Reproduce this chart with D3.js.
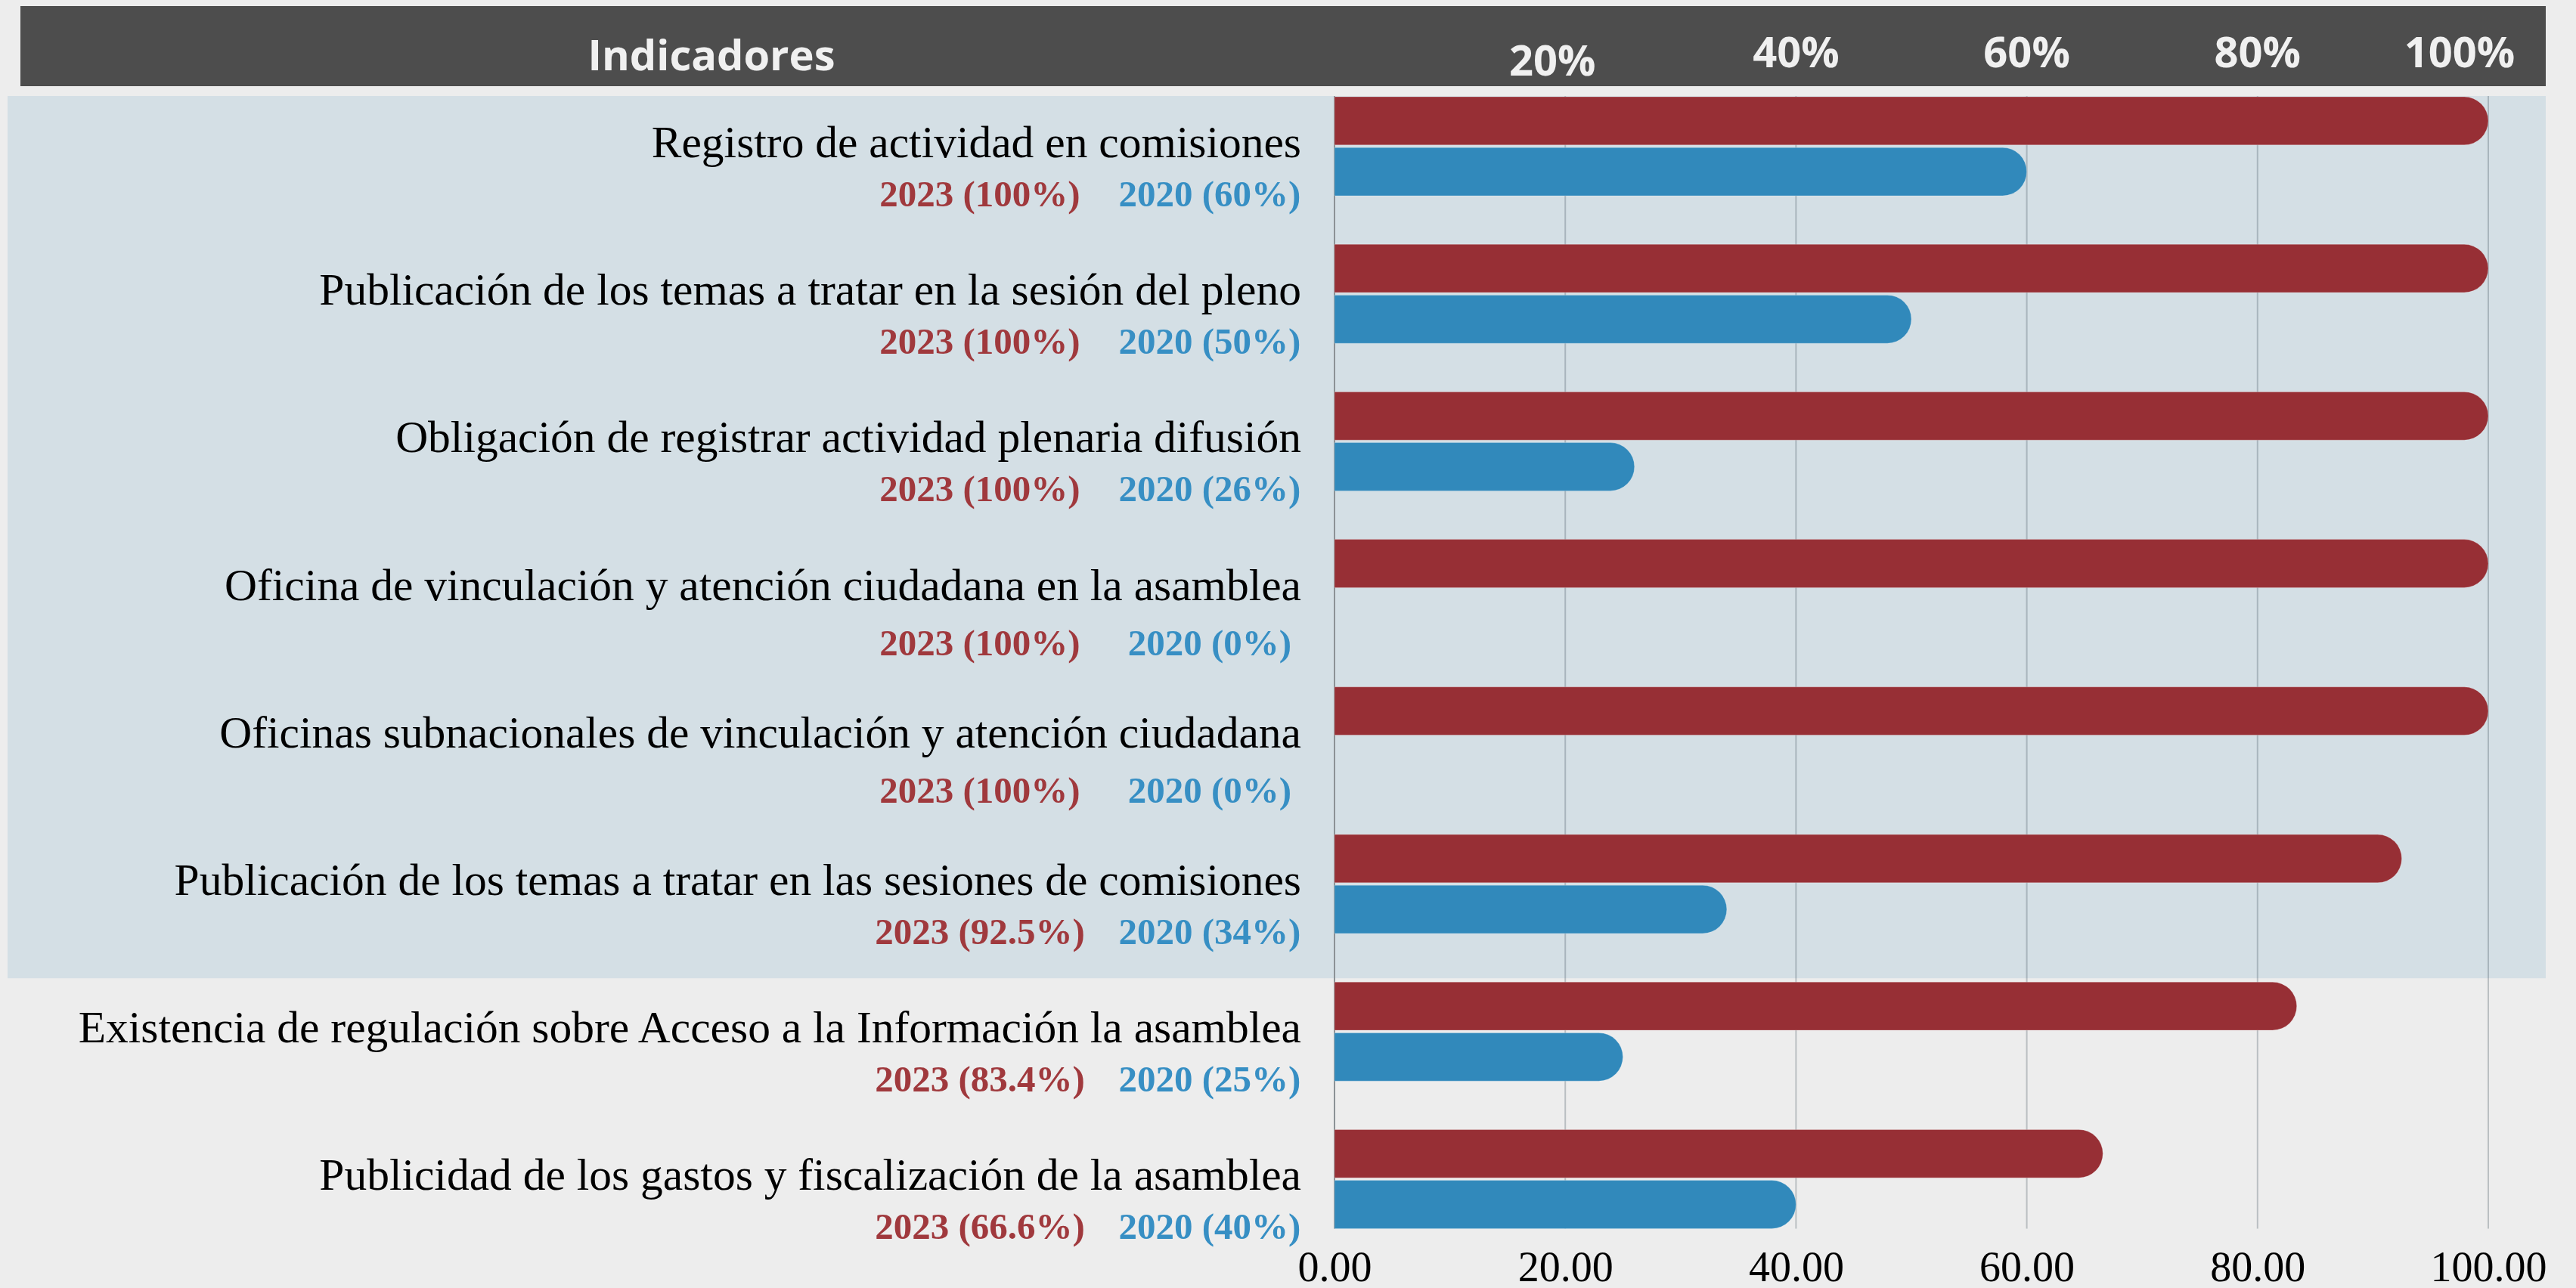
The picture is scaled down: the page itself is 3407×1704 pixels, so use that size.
<!DOCTYPE html>
<html>
<head>
<meta charset="utf-8">
<script src="https://cdn.jsdelivr.net/npm/d3@7"></script>
<style>
  html, body { margin: 0; padding: 0; background: #ededed; }
  svg { display: block; }
</style>
</head>
<body>
<svg id="chart" width="3407" height="1704"></svg>
<script>
// ---- data ----
const categories = [
  "Registro de actividad en comisiones",
  "Publicación de los temas a tratar en la sesión del pleno",
  "Obligación de registrar actividad plenaria difusión",
  "Oficina de vinculación y atención ciudadana en la asamblea",
  "Oficinas subnacionales de vinculación y atención ciudadana",
  "Publicación de los temas a tratar en las sesiones de comisiones",
  "Existencia de regulación sobre Acceso a la Información la asamblea",
  "Publicidad de los gastos y fiscalización de la asamblea"
];
const values2023 = [100, 100, 100, 100, 100, 92.5, 83.4, 66.6];
const values2020 = [60, 50, 26, 0, 0, 34, 25, 40];
const labels2023 = ["2023 (100%)", "2023 (100%)", "2023 (100%)", "2023 (100%)", "2023 (100%)", "2023 (92.5%)", "2023 (83.4%)", "2023 (66.6%)"];
const labels2020 = ["2020 (60%)", "2020 (50%)", "2020 (26%)", "2020 (0%)", "2020 (0%)", "2020 (34%)", "2020 (25%)", "2020 (40%)"];
const series = ["2023", "2020"];
const axisTicks = [0, 20, 40, 60, 80, 100];
const headerTicks = [20, 40, 60, 80, 100];
const headerTickLabels = ["20%", "40%", "60%", "80%", "100%"];
const headerTitle = "Indicadores";
const highlightedRows = 6;

// ---- layout ----
const svg = d3.select("#chart");
const W = 3407, H = 1704;
const COLORS = { "2023": "#972f35", "2020": "#3189bb" };
const TEXTCOL = { "2023": "#a0393d", "2020": "#378fc4" };

const x = d3.scaleLinear().domain([0, 100]).range([1765, 3291]);
const y = d3.scaleBand().domain(categories).range([128, 128 + 8 * 195.2]).paddingInner(0).paddingOuter(0);
const ySub = d3.scaleBand().domain(series).range([0, 131]).paddingInner(0.05);

const rows = categories.map((c, i) => ({
  cat: c, v2023: values2023[i], v2020: values2020[i], l2023: labels2023[i], l2020: labels2020[i], i
}));

// background
svg.append("rect").attr("width", W).attr("height", H).attr("fill", "#ededed");

// header
svg.append("rect").attr("x", 27).attr("y", 8).attr("width", 3367 - 27).attr("height", 106).attr("fill", "#4d4d4d");
svg.append("text").attr("x", 941).attr("y", 93).attr("text-anchor", "middle")
  .attr("font-family", "'Open Sans', 'Liberation Sans', sans-serif").attr("font-weight", 700)
  .attr("font-size", 56).attr("fill", "#f0f0f0").text(headerTitle);
svg.append("g").selectAll("text").data(headerTicks).join("text")
  .attr("x", (d, i) => x(d) + (i === 0 ? -17 : (i === headerTicks.length - 1 ? -38 : 0)))
  .attr("y", (d, i) => i === 0 ? 100 : 89)
  .attr("text-anchor", "middle")
  .attr("font-family", "'Open Sans', 'Liberation Sans', sans-serif").attr("font-weight", 700)
  .attr("font-size", 56).attr("fill", "#f0f0f0")
  .text((d, i) => headerTickLabels[i]);

// highlighted band
const bandTop = y(categories[0]) - 1;
const bandBottom = y(categories[highlightedRows]) - 5;
svg.append("rect").attr("x", 10).attr("y", bandTop).attr("width", 3367 - 10)
  .attr("height", bandBottom - bandTop).attr("fill", "#d4dfe5");

// gridlines
const gridBottom = y(categories[categories.length - 1]) + 131;
svg.append("g").selectAll("line").data(axisTicks.slice(1)).join("line")
  .attr("x1", d => x(d)).attr("x2", d => x(d))
  .attr("y1", bandTop).attr("y2", gridBottom)
  .attr("stroke", "rgba(70,85,95,0.3)").attr("stroke-width", 2);
svg.append("line").attr("x1", x(0)).attr("x2", x(0)).attr("y1", bandTop).attr("y2", gridBottom)
  .attr("stroke", "#8c9296").attr("stroke-width", 2);

// bars
function pill(x0, x1, yy, h) {
  const w = x1 - x0;
  if (w <= 0) return "";
  const r = Math.min(h / 2, w);
  return `M${x0},${yy}H${x1 - r}A${r},${h / 2} 0 0 1 ${x1 - r},${yy + h}H${x0}Z`;
}
const gBars = svg.append("g");
rows.forEach(r => {
  series.forEach(s => {
    const v = s === "2023" ? r.v2023 : r.v2020;
    if (v <= 0) return;
    gBars.append("path")
      .attr("d", pill(x(0), x(v), y(r.cat) + ySub(s), ySub.bandwidth()))
      .attr("fill", COLORS[s])
      .attr("stroke", "rgba(255,255,255,0.25)").attr("stroke-width", 1);
  });
});

// labels
const gLab = svg.append("g");
gLab.selectAll("text.cat").data(rows).join("text").attr("class", "cat")
  .attr("x", 1721).attr("y", d => y(d.cat) + 80)
  .attr("text-anchor", "end")
  .attr("font-family", "'Liberation Serif', 'Times New Roman', serif")
  .attr("font-size", 59.5).attr("fill", "#000").text(d => d.cat);
gLab.selectAll("text.l23").data(rows).join("text").attr("class", "l23")
  .attr("x", 1296).attr("y", d => y(d.cat) + (d.v2020 === 0 ? 153 : 145))
  .attr("text-anchor", "middle")
  .attr("font-family", "'Liberation Serif', 'Times New Roman', serif").attr("font-weight", 700)
  .attr("font-size", 49).attr("fill", TEXTCOL["2023"]).text(d => d.l2023);
gLab.selectAll("text.l20").data(rows).join("text").attr("class", "l20")
  .attr("x", 1600).attr("y", d => y(d.cat) + (d.v2020 === 0 ? 153 : 145))
  .attr("text-anchor", "middle")
  .attr("font-family", "'Liberation Serif', 'Times New Roman', serif").attr("font-weight", 700)
  .attr("font-size", 49).attr("fill", TEXTCOL["2020"]).text(d => d.l2020);

// bottom axis
const axis = d3.axisBottom(x).tickValues(axisTicks).tickFormat(d3.format(".2f")).tickSize(0).tickPadding(0);
const gAxis = svg.append("g").attr("transform", `translate(0,${1655})`).call(axis);
gAxis.select(".domain").remove();
gAxis.selectAll("text")
  .attr("font-family", "'Liberation Serif', 'Times New Roman', serif")
  .attr("font-size", 56).attr("fill", "#000").attr("dy", "0.71em");
</script>
</body>
</html>
